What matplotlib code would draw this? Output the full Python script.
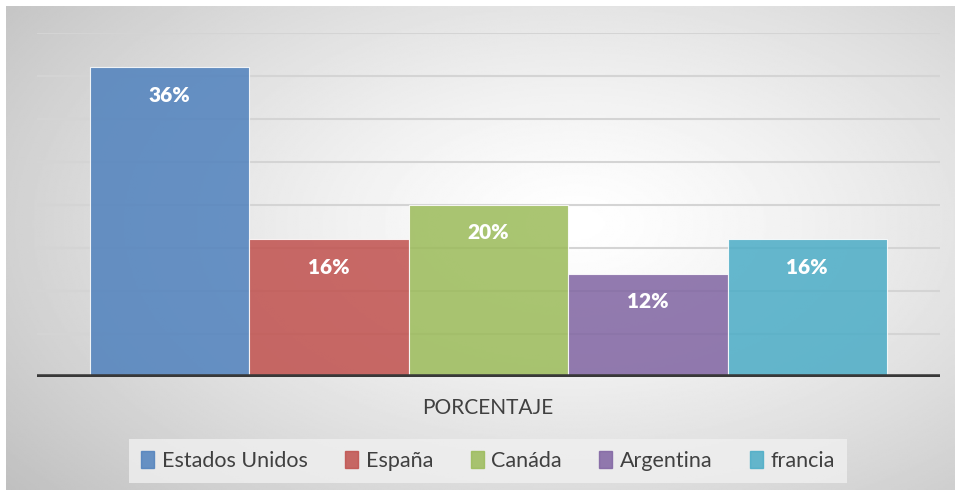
import matplotlib.pyplot as plt
import numpy as np
from matplotlib.patches import Rectangle

paises = ["Estados Unidos", "España", "Canáda", "Argentina", "francia"]
valores = [36, 16, 20, 12, 16]
colores = ["#4F81BD", "#C0504D", "#9BBB59", "#8064A2", "#4BACC6"]
categoria = "PORCENTAJE"

plt.rcParams['font.family'] = ['Lato', 'DejaVu Sans']

W, H = 960, 497
fig = plt.figure(figsize=(W / 100, H / 100), dpi=100)

# fondo con degradado radial
bg = fig.add_axes([6 / W, 1 - 490 / H, (955 - 6) / W, (490 - 6) / H])
yy, xx = np.mgrid[0:1:300j, 0:1:600j]
r = np.sqrt(((xx - 0.6) / 0.8) ** 2 + ((yy - 0.45) / 0.9) ** 2)
img = 1 - 0.26 * np.clip(r, 0, 1) ** 1.3
bg.imshow(img, cmap='gray', vmin=0, vmax=1, aspect='auto', extent=[0, 1, 0, 1])
bg.set_axis_off()

ax = fig.add_axes([37 / W, 1 - 377 / H, (940 - 37) / W, (377 - 33) / H])
ax.patch.set_visible(False)
ax.set_ylim(0, 40)
ax.set_xlim(-0.833, 4.833)
ax.set_yticks(np.arange(0, 41, 5))
ax.grid(axis='y', color='#d4d4d4', linewidth=1.5)
ax.set_axisbelow(True)
for s in ax.spines.values():
    s.set_visible(False)
ax.tick_params(left=False, bottom=False, labelleft=False, labelbottom=False)

x = np.arange(len(paises))
bars = ax.bar(x, valores, width=1.0, color=colores, alpha=0.85,
              edgecolor='#ffffff80', linewidth=0.8, label=paises)
for xi, v in zip(x, valores):
    ax.annotate(f"{v}%", (xi, v), xytext=(0, -20), textcoords='offset points',
                ha='center', va='center', color='white', fontsize=15,
                fontweight='heavy')
ax.axhline(0, color='#383838', linewidth=4, zorder=5)

fig.text(488 / W, 1 - 408 / H, categoria, ha='center', va='center',
         fontsize=15, color='#404040')

handles = [Rectangle((0, 0), 1, 1, color=c, alpha=0.85) for c in colores]
leg = fig.legend(handles, paises, loc='center', ncol=5,
                 bbox_to_anchor=(488 / W, 1 - 461 / H), fontsize=15.5,
                 frameon=True, facecolor='#f0f0f0', edgecolor='none',
                 framealpha=0.8, fancybox=False, handlelength=0.6,
                 handleheight=0.8, handletextpad=0.35, columnspacing=1.75,
                 borderpad=0.55, borderaxespad=0)
for t in leg.get_texts():
    t.set_color('#404040')

fig.savefig('out.png', dpi=100, facecolor='white')
